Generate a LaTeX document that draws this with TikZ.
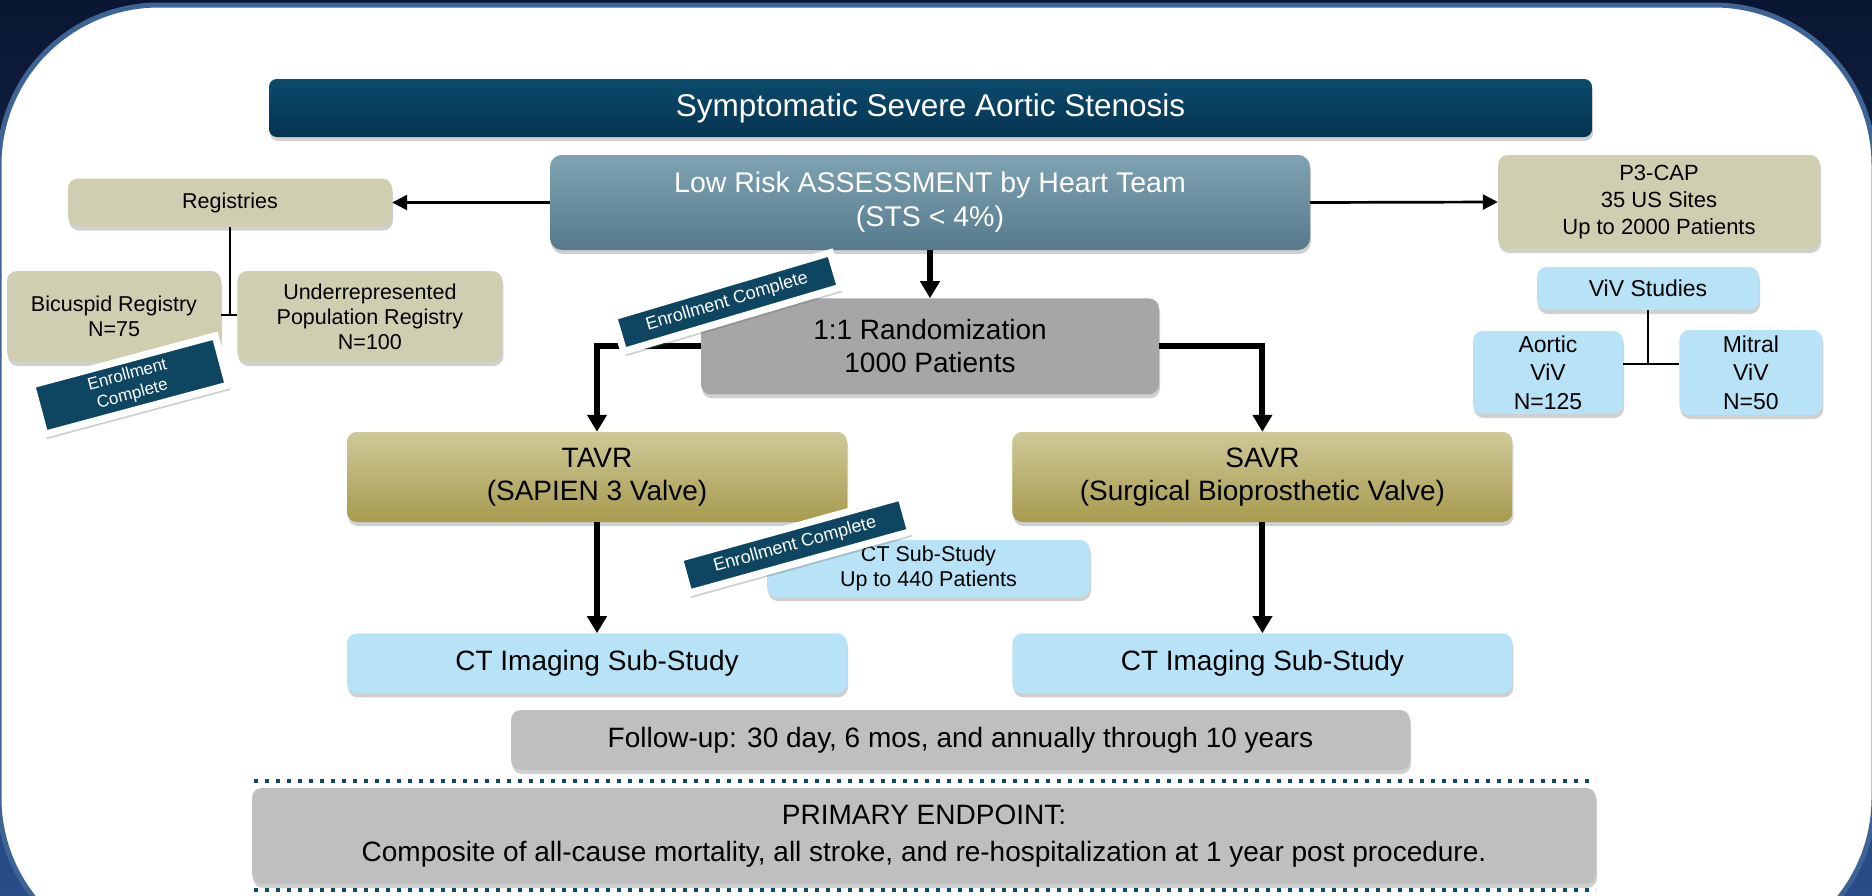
\documentclass[tikz,border=0pt]{standalone}
\usepackage{fontspec}
\setmainfont{Liberation Sans}
\usepackage{xcolor}
\usepackage{tikz}
\usetikzlibrary{arrows.meta, positioning, shadows}

\definecolor{bgtop}{HTML}{0A1631}
\definecolor{bgbot}{HTML}{284D88}
\definecolor{panelrim}{HTML}{3E6496}
\definecolor{titletop}{HTML}{0C4B6C}
\definecolor{titlebot}{HTML}{053350}
\definecolor{asstop}{HTML}{7FA3B2}
\definecolor{assbot}{HTML}{557A8C}
\definecolor{regtan}{HTML}{D0CEB0}
\definecolor{olivetop}{HTML}{CFC998}
\definecolor{olivebot}{HTML}{A69B4E}
\definecolor{randgray}{HTML}{A6A6A6}
\definecolor{skyblue}{HTML}{B8E2F5}
\definecolor{endgray}{HTML}{BFBFBF}
\definecolor{badgeblue}{HTML}{0E4560}
\definecolor{dotblue}{HTML}{0E4A6A}

\begin{document}
\begin{tikzpicture}[
  x=1pt, y=-1pt,
  big/.style={font=\fontsize{28}{33}\selectfont},
  small/.style={font=\fontsize{21.5}{25}\selectfont},
  box/.style={
    rectangle,
    fill=#1,
    rounded corners=10pt,
    inner sep=0pt,
    align=center,
    drop shadow={shadow xshift=1pt, shadow yshift=-4pt, opacity=0.3, fill=black!60}
  },
  box/.default=regtan,
  flow/.style={
    -{Triangle[length=17pt,width=19pt]},
    line width=6pt
  },
  side/.style={
    -{Triangle[length=15pt,width=15pt]},
    line width=2.7pt
  },
  link/.style={line width=1.8pt},
  badge/.style={
    rectangle,
    fill=badgeblue,
    draw=white,
    line width=7pt,
    text=white,
    inner sep=0pt,
    align=center,
    drop shadow={shadow xshift=2pt, shadow yshift=-5pt, opacity=0.3, fill=black!60}
  },
  dotline/.style={dotblue, line width=4pt, dash pattern=on 4pt off 7pt}
]

\useasboundingbox (0,0) rectangle (1872,895);

% --- Frame -----------------------------------------------------------

\fill[top color=bgtop, bottom color=bgbot] (0,0) rectangle (1872,895);
\draw[panelrim, fill=white, line width=5pt, rounded corners=160pt]
  (-1,5) rectangle (1874,958);

% --- Main trial ------------------------------------------------------

\node[box, top color=titletop, bottom color=titlebot, text=white,
  rounded corners=8pt, minimum width=1323pt, minimum height=58pt,
  font=\fontsize{31.5}{36}\selectfont] (title) at (930.5,108)
{Symptomatic Severe Aortic Stenosis};

\node[box, top color=asstop, bottom color=assbot, text=white,
  font=\fontsize{28.5}{34}\selectfont,
  rounded corners=12pt, minimum width=760pt, minimum height=95pt]
  (assess) at (930,202.5)
{Low Risk ASSESSMENT by Heart Team\\(STS < 4\%)};

\node[box=randgray, big, minimum width=458pt, minimum height=96pt,
  below=48pt of assess] (rand)
{1:1 Randomization\\1000 Patients};

\node[box, top color=olivetop, bottom color=olivebot, big,
  minimum width=500pt, minimum height=90pt] (tavr) at (597,477)
{TAVR\\(SAPIEN 3 Valve)};

\node[box, top color=olivetop, bottom color=olivebot, big,
  minimum width=500pt, minimum height=90pt, right=165pt of tavr] (savr)
{SAVR\\(Surgical Bioprosthetic Valve)};

\node[box=skyblue, small, minimum width=323pt, minimum height=57pt]
  (ctsub) at (928.5,568.5)
{CT Sub-Study\\Up to 440 Patients};

\node[box=skyblue, big, minimum width=500pt, minimum height=60pt,
  below=111pt of tavr] (ctleft)
{CT Imaging Sub-Study};

\node[box=skyblue, big, minimum width=500pt, minimum height=60pt,
  below=111pt of savr] (ctright)
{CT Imaging Sub-Study};

% --- Registries ------------------------------------------------------

\node[box, small, minimum width=324pt, minimum height=48pt]
  (reg) at (230,202.5)
{Registries};

\node[box, small, minimum width=214pt, minimum height=91pt]
  (bicus) at (114,316.5)
{Bicuspid Registry\\N=75};

\node[box, small, minimum width=265pt, minimum height=91pt,
  right=16pt of bicus] (under)
{Underrepresented\\Population Registry\\N=100};

% --- Continued access and ViV ----------------------------------------

\node[box, minimum width=322pt, minimum height=94pt,
  font=\fontsize{22}{27}\selectfont] (p3cap) at (1659,202)
{P3-CAP\\35 US Sites\\Up to 2000 Patients};

\node[box=skyblue, minimum width=222pt, minimum height=43pt,
  font=\fontsize{23}{28}\selectfont] (viv) at (1648,288.5)
{ViV Studies};

\node[box=skyblue, minimum width=150pt, minimum height=83pt,
  font=\fontsize{23}{28.5}\selectfont] (aortic) at (1548,372.5)
{Aortic\\ViV\\N=125};

\node[box=skyblue, minimum width=143pt, minimum height=85pt,
  font=\fontsize{23}{28.5}\selectfont, right=56pt of aortic] (mitral)
{Mitral\\ViV\\N=50};

% --- Follow-up and endpoint ------------------------------------------

\node[box=endgray, minimum width=899pt, minimum height=60pt,
  font=\fontsize{28}{33}\selectfont] (follow) at (960.5,740)
{Follow-up: 30 day, 6 mos, and annually through 10 years};

\node[box=endgray, minimum width=1344pt, minimum height=96pt,
  font=\fontsize{28}{37}\selectfont] (primary) at (924,836)
{PRIMARY ENDPOINT:\\Composite of all-cause mortality, all stroke, and re-hospitalization at 1 year post procedure.};

\draw[dotline] (254,781) -- (1596,781);
\draw[dotline] (254,890) -- (1596,890);

% --- Flows -----------------------------------------------------------

\draw[flow] (assess) -- (rand);
\draw[flow] (rand.west) -| (tavr.north);
\draw[flow] (rand.east) -| (savr.north);
\draw[flow] (tavr) -- (ctleft);
\draw[flow] (savr) -- (ctright);

\draw[side] (assess.west) -- (reg.east);
\draw[side] (assess.east) -- (p3cap.west);

% Registry and ViV branches
\coordinate (regjoin) at (230,315);
\draw[link] (reg.south) -- (regjoin);
\draw[link] (bicus.east |- regjoin) -- (under.west |- regjoin);

\coordinate (vivjoin) at (1648,364);
\draw[link] (viv.south) -- (vivjoin);
\draw[link] (aortic.east |- vivjoin) -- (mitral.west |- vivjoin);

% --- Enrollment stamps -----------------------------------------------

\node[badge, rotate=15, minimum width=190pt, minimum height=51pt,
  font=\fontsize{17}{20}\selectfont] (done1) at (130,385)
{Enrollment\\Complete};

\node[badge, rotate=16.5, minimum width=226pt, minimum height=36pt,
  font=\fontsize{18}{21}\selectfont] (done2) at (727,302)
{Enrollment Complete};

\node[badge, rotate=15.5, minimum width=230pt, minimum height=36pt,
  font=\fontsize{18}{21}\selectfont] (done3) at (795,545)
{Enrollment Complete};

\end{tikzpicture}
\end{document}
